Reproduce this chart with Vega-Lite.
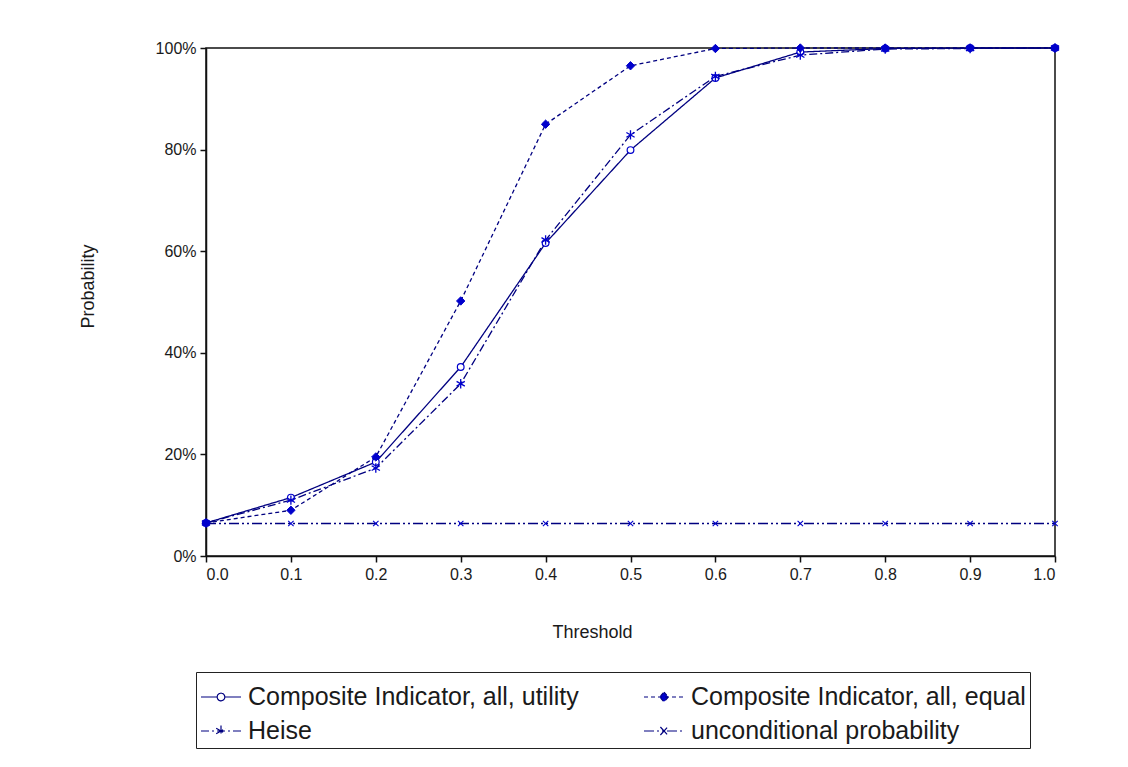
{
  "$schema": "https://vega.github.io/schema/vega-lite/v6.json",
  "width": 849,
  "height": 508,
  "autosize": {"type": "none"},
  "padding": {"left": 206, "top": 48, "right": 73, "bottom": 211},
  "background": "white",
  "config": {
    "font": "Liberation Sans",
    "view": {"stroke": "#111", "strokeWidth": 1.5},
    "axis": {"grid": false, "domainColor": "#111", "domainWidth": 1.5, "tickColor": "#111", "tickWidth": 1.5, "tickSize": 6, "labelFontSize": 16, "labelColor": "#1a1a1a", "titleFontSize": 18, "titleFontWeight": "normal", "titleColor": "#1a1a1a", "labelPadding": 4}
  },
  "data": {"values": [
    {"t": 0.0, "p": 0.065, "series": "Composite Indicator, all, utility"},
    {"t": 0.1, "p": 0.115, "series": "Composite Indicator, all, utility"},
    {"t": 0.2, "p": 0.185, "series": "Composite Indicator, all, utility"},
    {"t": 0.3, "p": 0.372, "series": "Composite Indicator, all, utility"},
    {"t": 0.4, "p": 0.616, "series": "Composite Indicator, all, utility"},
    {"t": 0.5, "p": 0.799, "series": "Composite Indicator, all, utility"},
    {"t": 0.6, "p": 0.941, "series": "Composite Indicator, all, utility"},
    {"t": 0.7, "p": 0.992, "series": "Composite Indicator, all, utility"},
    {"t": 0.8, "p": 0.999, "series": "Composite Indicator, all, utility"},
    {"t": 0.9, "p": 1.0, "series": "Composite Indicator, all, utility"},
    {"t": 1.0, "p": 1.0, "series": "Composite Indicator, all, utility"},
    {"t": 0.0, "p": 0.065, "series": "Composite Indicator, all, equal"},
    {"t": 0.1, "p": 0.090, "series": "Composite Indicator, all, equal"},
    {"t": 0.2, "p": 0.195, "series": "Composite Indicator, all, equal"},
    {"t": 0.3, "p": 0.502, "series": "Composite Indicator, all, equal"},
    {"t": 0.4, "p": 0.850, "series": "Composite Indicator, all, equal"},
    {"t": 0.5, "p": 0.965, "series": "Composite Indicator, all, equal"},
    {"t": 0.6, "p": 0.999, "series": "Composite Indicator, all, equal"},
    {"t": 0.7, "p": 1.0, "series": "Composite Indicator, all, equal"},
    {"t": 0.8, "p": 1.0, "series": "Composite Indicator, all, equal"},
    {"t": 0.9, "p": 1.0, "series": "Composite Indicator, all, equal"},
    {"t": 1.0, "p": 1.0, "series": "Composite Indicator, all, equal"},
    {"t": 0.0, "p": 0.065, "series": "Heise"},
    {"t": 0.1, "p": 0.110, "series": "Heise"},
    {"t": 0.2, "p": 0.173, "series": "Heise"},
    {"t": 0.3, "p": 0.339, "series": "Heise"},
    {"t": 0.4, "p": 0.622, "series": "Heise"},
    {"t": 0.5, "p": 0.829, "series": "Heise"},
    {"t": 0.6, "p": 0.944, "series": "Heise"},
    {"t": 0.7, "p": 0.986, "series": "Heise"},
    {"t": 0.8, "p": 0.998, "series": "Heise"},
    {"t": 0.9, "p": 0.999, "series": "Heise"},
    {"t": 1.0, "p": 1.0, "series": "Heise"},
    {"t": 0.0, "p": 0.064, "series": "unconditional probability"},
    {"t": 0.1, "p": 0.064, "series": "unconditional probability"},
    {"t": 0.2, "p": 0.064, "series": "unconditional probability"},
    {"t": 0.3, "p": 0.064, "series": "unconditional probability"},
    {"t": 0.4, "p": 0.064, "series": "unconditional probability"},
    {"t": 0.5, "p": 0.064, "series": "unconditional probability"},
    {"t": 0.6, "p": 0.064, "series": "unconditional probability"},
    {"t": 0.7, "p": 0.064, "series": "unconditional probability"},
    {"t": 0.8, "p": 0.064, "series": "unconditional probability"},
    {"t": 0.9, "p": 0.064, "series": "unconditional probability"},
    {"t": 1.0, "p": 0.064, "series": "unconditional probability"}
  ]},
  "encoding": {
    "x": {"field": "t", "type": "quantitative", "title": "Threshold",
      "scale": {"domain": [0, 1], "nice": false, "zero": false},
      "axis": {"values": [0, 0.1, 0.2, 0.3, 0.4, 0.5, 0.6, 0.7, 0.8, 0.9, 1.0], "format": ".1f", "titlePadding": 41, "titleX": 386}},
    "y": {"field": "p", "type": "quantitative", "title": "Probability",
      "scale": {"domain": [0, 1], "nice": false},
      "axis": {"values": [0, 0.2, 0.4, 0.6, 0.8, 1.0], "format": ".0%", "titlePadding": 58, "titleY": 238}}
  },
  "layer": [
    {
      "mark": {"type": "line", "stroke": "#000080", "strokeWidth": 1.3},
      "encoding": {
        "detail": {"field": "series"},
        "strokeDash": {"field": "series", "type": "nominal",
          "scale": {"domain": ["Composite Indicator, all, utility", "Composite Indicator, all, equal", "Heise", "unconditional probability"],
                    "range": [[1, 0], [4, 3], [8, 3, 2, 3], [10, 3, 2, 3, 2, 3]]},
          "legend": {
            "title": null, "orient": "none", "legendX": -10, "legendY": 624,
            "columns": 2, "direction": "horizontal",
            "strokeColor": "#222", "padding": 4,
            "labelFontSize": 25, "labelColor": "#1a1a1a", "labelOffset": 6, "labelLimit": 600,
            "symbolSize": 1600, "symbolStrokeWidth": 1.2, "symbolStrokeColor": "#000080",
            "columnPadding": 62, "rowPadding": -11,
            "encode": {"symbols": {"update": {
              "shape": {"signal": "datum.value === 'Composite Indicator, all, utility' ? 'M-1,0H-0.19 M0.19,0H1 M0.19,0A0.19,0.19 0 1,1 -0.19,0A0.19,0.19 0 1,1 0.19,0Z' : datum.value === 'Composite Indicator, all, equal' ? 'M-1,0H1 M0,-0.24L0.22,0L0,0.24L-0.22,0Z' : datum.value === 'Heise' ? 'M-1,0H1 M0,-0.27V0.27 M-0.24,-0.14L0.24,0.14 M-0.24,0.14L0.24,-0.14' : 'M-1,0H1 M-0.18,-0.2L0.18,0.2 M-0.18,0.2L0.18,-0.2'"},
              "fill": {"signal": "datum.value === 'Composite Indicator, all, utility' ? 'white' : '#0000cc'"},
              "stroke": {"value": "#000080"}
            }}}
          }}
      }
    },
    {
      "transform": [{"filter": "datum.series === 'Composite Indicator, all, utility'"}],
      "mark": {"type": "point", "shape": "circle", "filled": true, "fill": "white", "stroke": "#0000cc", "strokeWidth": 1.2, "size": 45, "opacity": 1}
    },
    {
      "transform": [{"filter": "datum.series === 'Composite Indicator, all, equal'"}],
      "mark": {"type": "point", "shape": "diamond", "filled": true, "fill": "#0000cc", "stroke": "#0000cc", "strokeWidth": 1, "size": 70, "opacity": 1}
    },
    {
      "transform": [{"filter": "datum.series === 'Heise'"}],
      "mark": {"type": "point", "shape": "M0,-1V1M-0.87,-0.5L0.87,0.5M-0.87,0.5L0.87,-0.5", "filled": false, "stroke": "#0000cc", "strokeWidth": 1.3, "size": 90, "opacity": 1}
    },
    {
      "transform": [{"filter": "datum.series === 'unconditional probability'"}],
      "mark": {"type": "point", "shape": "M-0.7,-0.7L0.7,0.7M-0.7,0.7L0.7,-0.7", "filled": false, "stroke": "#0000cc", "strokeWidth": 1.1, "size": 60, "opacity": 1}
    }
  ]
}
